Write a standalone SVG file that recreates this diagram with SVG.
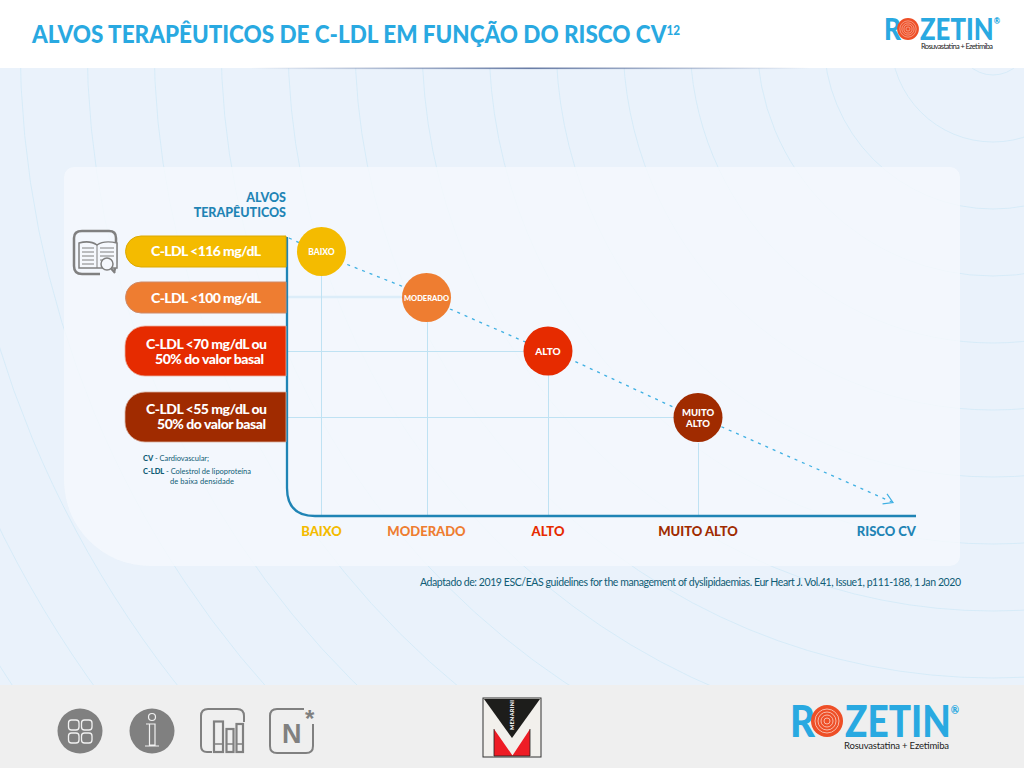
<svg xmlns="http://www.w3.org/2000/svg" width="1024" height="768" viewBox="0 0 1024 768">
<defs>
<linearGradient id="hl" x1="0" x2="1" y1="0" y2="0"><stop offset="0" stop-color="#5a6f9c" stop-opacity="0"/><stop offset=".5" stop-color="#5a6f9c" stop-opacity=".9"/><stop offset="1" stop-color="#5a6f9c" stop-opacity="0"/></linearGradient>
<marker id="chev" markerUnits="userSpaceOnUse" markerWidth="14" markerHeight="14" refX="11" refY="7" orient="auto"><path d="M2 1.500 L11 7 L2 12.500" fill="none" stroke="#3fb0e3" stroke-width="1.200"/></marker>
<g id="rz"><circle r="16" fill="#ee4f27"/><g fill="none" stroke="#fbd3c6" stroke-width=".8"><circle r="3"/><circle r="6"/><circle r="9"/><circle r="12"/></g></g>
</defs>
<style>
text{font-family:"Lato","Open Sans","Liberation Sans",sans-serif;font-weight:700}
.w{fill:#fff}
.ring{fill:none;stroke:#d2eaf7;stroke-width:.8}
.grid{stroke:#bfe2f3;stroke-width:1;fill:none}
.note{fill:#0f5c75;font-weight:400;font-size:7.500px}
.noteb{fill:#0f5c75;font-weight:900;font-size:7.500px}
.ax{font-size:13px;text-anchor:middle;font-weight:900}
.pl{font-size:14px;fill:#fff;font-weight:900}
.cl{fill:#fff;text-anchor:middle;font-weight:900}
.ic{fill:none;stroke:#808080;stroke-width:2}
.brand{fill:#29a9e1;font-weight:900}
.sub{fill:#222;font-weight:400}
</style>
<rect width="1024" height="768" fill="#eaf2fb"/>
<g id="background-rings">
<circle class="ring" cx="993" cy="40" r="35"/><circle class="ring" cx="993" cy="40" r="102"/><circle class="ring" cx="993" cy="40" r="169"/><circle class="ring" cx="993" cy="40" r="236"/><circle class="ring" cx="993" cy="40" r="303"/><circle class="ring" cx="993" cy="40" r="370"/><circle class="ring" cx="993" cy="40" r="437"/><circle class="ring" cx="993" cy="40" r="504"/><circle class="ring" cx="993" cy="40" r="571"/><circle class="ring" cx="993" cy="40" r="638"/><circle class="ring" cx="993" cy="40" r="705"/><circle class="ring" cx="993" cy="40" r="772"/><circle class="ring" cx="993" cy="40" r="839"/><circle class="ring" cx="993" cy="40" r="906"/><circle class="ring" cx="993" cy="40" r="973"/><circle class="ring" cx="993" cy="40" r="1040"/><circle class="ring" cx="993" cy="40" r="1107"/><circle class="ring" cx="993" cy="40" r="1174"/>
</g>
<path id="panel" d="M74 167H950a10 10 0 0 1 10 10V556a10 10 0 0 1-10 10H150a86 86 0 0 1-86-86V177a10 10 0 0 1 10-10Z" fill="#f5f8fd" fill-opacity=".85"/>
<g id="header">
<rect width="1024" height="68" fill="#fff"/>
<rect x="250" y="67.500" width="560" height="1.600" fill="url(#hl)"/>
<text x="32" y="43" font-size="24" fill="#29a9e1" textLength="648" lengthAdjust="spacingAndGlyphs" style="font-weight:900">ALVOS TERAPÊUTICOS DE C-LDL EM FUNÇÃO DO RISCO CV<tspan dy="-8" font-size="12.500">12</tspan></text>
</g>
<g id="logo-top">
<text class="brand" x="884" y="40" font-size="30" textLength="17" lengthAdjust="spacingAndGlyphs">R</text>
<use href="#rz" transform="translate(908 29) scale(.68)"/>
<text class="brand" x="920" y="40" font-size="30" textLength="80" lengthAdjust="spacingAndGlyphs">ZETIN<tspan dy="-16" font-size="9">®</tspan></text>
<text class="sub" x="921" y="49" font-size="7.500" textLength="72">Rosuvastatina + Ezetimiba</text>
</g>
<g id="connectors">
<path class="grid" d="M288 297H404" style="stroke-width:2.500;stroke:#dcedf9"/>
<path class="grid" d="M288 351.500H525M288 417.500H675M321.500 275V516M427.500 322V516M548.500 375V516M698.500 443V516"/>
<path id="trend" d="M289 238L346 264L404 287L450 309L523 341L572 360L673 407L722 427L893 502.500" fill="none" stroke="#3fb0e3" stroke-width="1.300" stroke-dasharray="3 5" marker-end="url(#chev)"/>
<path id="axis" d="M287 237V488Q287 516 315 516H916" fill="none" stroke="#1f84b5" stroke-width="2.300"/>
</g>
<g id="pill-116"><path d="M286 236H141a15.500 15.500 0 0 0 0 31H286Z" fill="#f4bb00" stroke="#dca900" stroke-width="1"/><text class="pl" x="151" y="256" textLength="110">C-LDL &lt;116 mg/dL</text></g>
<g id="pill-100"><path d="M286 282H141a15.500 15.500 0 0 0 0 31H286Z" fill="#ee7d31" stroke="#cf8a68" stroke-width="1"/><text class="pl" x="151" y="303" textLength="110">C-LDL &lt;100 mg/dL</text></g>
<g id="pill-70"><path d="M286 326H145a20 20 0 0 0-20 20V356a20 20 0 0 0 20 20H286Z" fill="#e62b00" stroke="#e8b0a0" stroke-width=".8"/><text class="pl" x="146" y="349" textLength="121">C-LDL &lt;70 mg/dL ou</text><text class="pl" x="155" y="364" font-size="13" textLength="109">50% do valor basal</text></g>
<g id="pill-55"><path d="M286 392H145a20 20 0 0 0-20 20V422a20 20 0 0 0 20 20H286Z" fill="#a02b00" stroke="#d8b0a0" stroke-width=".8"/><text class="pl" x="146" y="414" textLength="121">C-LDL &lt;55 mg/dL ou</text><text class="pl" x="157" y="429" font-size="13" textLength="109">50% do valor basal</text></g>
<g id="node-baixo"><circle cx="321.500" cy="251.500" r="24.500" fill="#f4bb00"/><text class="cl" x="321.500" y="255" font-size="8.500">BAIXO</text></g>
<g id="node-moderado"><circle cx="426.500" cy="297.500" r="24.500" fill="#ee7d31"/><text class="cl" x="426.500" y="300.500" font-size="7.500">MODERADO</text></g>
<g id="node-alto"><circle cx="548" cy="351" r="24.500" fill="#e62b00"/><text class="cl" x="548" y="354.500" font-size="10">ALTO</text></g>
<g id="node-muito-alto"><circle cx="698" cy="417.500" r="24.500" fill="#a02b00"/><text class="cl" x="698" y="415.500" font-size="9.500">MUITO</text><text class="cl" x="698" y="426.500" font-size="9.500">ALTO</text></g>
<g id="titles">
<text x="286" y="202" font-size="12.500" fill="#1f84b5" text-anchor="end" style="font-weight:900">ALVOS</text>
<text x="286" y="217" font-size="12.500" fill="#1f84b5" text-anchor="end" style="font-weight:900">TERAPÊUTICOS</text>
<text class="ax" x="321.500" y="536" fill="#f4bb00">BAIXO</text>
<text class="ax" x="426.500" y="536" fill="#ee7d31">MODERADO</text>
<text class="ax" x="548" y="536" fill="#e62b00">ALTO</text>
<text class="ax" x="698" y="536" fill="#a02b00">MUITO ALTO</text>
<text class="ax" x="916" y="536" fill="#1f84b5" style="text-anchor:end">RISCO CV</text>
</g>
<g id="notes">
<text class="noteb" x="143" y="461">CV</text><text class="note" x="155" y="461" textLength="54">- Cardiovascular;</text>
<text class="noteb" x="143" y="474">C-LDL</text><text class="note" x="166" y="474" textLength="85">- Colestrol de lipoproteína</text>
<text class="note" x="170" y="484" textLength="64">de baixa densidade</text>
<text x="420" y="586" font-size="10.500" fill="#0f5c75" style="font-weight:400" textLength="541">Adaptado de: 2019 ESC/EAS guidelines for the management of dyslipidaemias. Eur Heart J. Vol.41, Issue1, p111-188, 1 Jan 2020</text>
</g>
<g id="book-icon">
<path class="ic" d="M114 272Q116 266 116 262V238Q116 231 109 231H82Q74 231 74 238V266Q74 274 82 274H100" style="stroke-width:2.500"/>
<path d="M79 243Q90 240 97 245Q104 240 117 243V268H79Z" fill="#f5f8fd" stroke="#808080" stroke-width="1.500"/>
<path d="M97 245V268M82 248H94M82 252H94M82 256H94M82 260H94M82 264H94M100 248H114M100 252H114M100 256H114M100 260H104" stroke="#808080" stroke-width="1" fill="none"/>
<circle cx="107" cy="264" r="6" fill="#f5f8fd" stroke="#808080" stroke-width="1.500"/>
<path d="M111 268.500L115 273" stroke="#808080" stroke-width="2"/>
</g>
<g id="footer">
<rect y="685" width="1024" height="83" fill="#efefef"/>
<g id="icon-menu"><circle cx="80" cy="731" r="22.500" fill="#808080"/><g fill="none" stroke="#f1f1f1" stroke-width="1.300"><rect x="68.500" y="720" width="10.500" height="10" rx="3"/><rect x="81.500" y="720" width="10.500" height="10" rx="3"/><rect x="68.500" y="733" width="10.500" height="10" rx="3"/><rect x="81.500" y="733" width="10.500" height="10" rx="3"/></g></g>
<g id="icon-info"><circle cx="152" cy="731" r="22.500" fill="#808080"/><g fill="none" stroke="#f1f1f1" stroke-width="1.200"><circle cx="152" cy="717" r="3.500"/><path d="M146 724H155V745H149.500V724M145 746H159"/></g></g>
<g id="icon-bars"><path class="ic" d="M212 752H207Q201 752 201 746V716Q201 709 208 709H237Q244 709 244 716V722"/><g fill="none" stroke="#808080" stroke-width="2.200"><rect x="214" y="721.500" width="9" height="30.500"/><rect x="226.500" y="729" width="7" height="23"/><rect x="236.500" y="724" width="6.500" height="28"/></g><path d="M214 744H223M226.500 744H233.500M236.500 744H243" stroke="#808080" stroke-width="1.500"/></g>
<g id="icon-n"><path class="ic" d="M304 709H277Q270 709 270 716V746Q270 753 277 753H306Q313 753 313 746V724"/><text x="282" y="743" font-size="27" fill="#808080" style="font-weight:900;font-family:'Liberation Sans',sans-serif">N</text><text x="305" y="727" font-size="24" fill="#808080" style="font-weight:900;font-family:'Liberation Sans',sans-serif">*</text></g>
<g id="logo-menarini">
<rect x="483" y="698" width="58" height="59" fill="#f2f0ec" stroke="#333" stroke-width="1"/>
<path d="M484 699H540L512 738Z" fill="#1d1d1b"/>
<path d="M494 729L512.500 755.500L530 729V756H494Z" fill="#ee1c25"/>
<path d="M494 729V756M530 729V756M494 756H530" stroke="#222" stroke-width=".8" fill="none"/>
<text transform="translate(514 730) rotate(-90)" font-size="5.500" class="w" textLength="30" style="font-weight:900">MENARINI</text>
</g>
<g id="logo-rozetin">
<text class="brand" x="790" y="737" font-size="44" textLength="25" lengthAdjust="spacingAndGlyphs">R</text>
<use href="#rz" transform="translate(827 721)"/>
<text class="brand" x="845" y="737" font-size="44" textLength="114" lengthAdjust="spacingAndGlyphs">ZETIN<tspan dy="-23" font-size="12">®</tspan></text>
<text class="sub" x="844" y="749" font-size="9.500" textLength="105">Rosuvastatina + Ezetimiba</text>
</g>
</g>
</svg>
